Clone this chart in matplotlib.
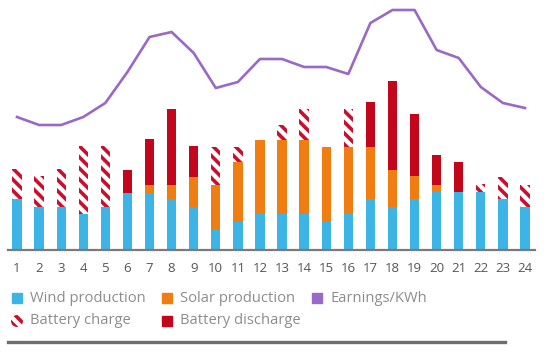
import numpy as np
import matplotlib.pyplot as plt
from matplotlib.patches import Rectangle

plt.rcParams['font.family'] = ['Open Sans', 'DejaVu Sans']
plt.rcParams['hatch.linewidth'] = 2.6

hours = list(range(1, 25))
wind = [51, 43, 43, 36, 43, 57, 57, 51, 43, 21, 28, 36,
        36, 36, 28, 36, 51, 43, 51, 58, 58, 58, 51, 43]
solar = [0, 0, 0, 0, 0, 0, 8, 14, 30, 44, 60, 74,
         74, 74, 75, 67, 52, 37, 23, 7, 0, 0, 0, 0]
charge = [30, 31, 38, 68, 61, 0, 0, 0, 0, 38, 15, 0,
          15, 31, 0, 38, 0, 0, 0, 0, 0, 8, 22, 22]
discharge = [0, 0, 0, 0, 0, 23, 46, 76, 31, 0, 0, 0,
             0, 0, 0, 0, 45, 89, 62, 30, 30, 0, 0, 0]
earnings = [133, 125, 125, 133, 147, 178, 213, 218, 197, 162, 168, 191,
            191, 183, 183, 176, 227, 240, 240, 200, 192, 163, 147, 142]

c_wind = '#3cb4e6'
c_solar = '#f07d12'
c_dis = '#c4061c'
c_earn = '#9a68c6'
c_hatch = '#c8102e'
c_txt = '#8c8c8c'

fig = plt.figure(figsize=(5.53, 3.58), dpi=100)
ax = fig.add_axes([0, 0, 1, 1])
step = (525 - 17) / 23
ax.set_xlim(1 - 17 / step, 1 + (553 - 17) / step)
ax.set_ylim(-108, 250)
ax.axis('off')

x = np.array(hours)
w = 0.42
wind = np.array(wind)
solar = np.array(solar)
charge = np.array(charge)
discharge = np.array(discharge)

ax.bar(x, wind, w, color=c_wind, zorder=2)
ax.bar(x, solar, w, bottom=wind, color=c_solar, zorder=2)
top = wind + solar
ax.bar(x, discharge, w, bottom=top, color=c_dis, zorder=2)
ax.bar(x, charge, w, bottom=top, color='white', edgecolor=c_hatch,
       hatch='\\\\\\', linewidth=0, zorder=2)

ax.plot(x, earnings, color=c_earn, lw=1.9, zorder=3, solid_joinstyle='round')

# baseline
ax.plot([1 - 9 / step, 1 + 518 / step], [0, 0], color='#7a7a7a', lw=1.6, zorder=4)

for h in hours:
    ax.text(h, -18, str(h), ha='center', va='center', fontsize=9.5, color='#555555')

# legend
def px(xp):
    return 1 + (xp - 17) / step

items = [
    (12, 298, c_wind, 'Wind production'),
    (162, 298, c_solar, 'Solar production'),
    (312, 298, c_earn, 'Earnings/KWh'),
    (162, 321, c_dis, 'Battery discharge'),
]
for xp, yp, col, lab in items:
    ax.add_patch(Rectangle((px(xp), 250 - yp - 5), 10 / step, 10, color=col))
    ax.text(px(xp + 18), 250 - yp, lab, va='center', ha='left', fontsize=10.6, color=c_txt)

ax.scatter([px(17)], [250 - 321], s=75, marker='o', facecolor='white',
           edgecolor=c_hatch, hatch='\\\\\\', linewidths=0)
ax.text(px(30), 250 - 321, 'Battery charge', va='center', ha='left', fontsize=10.6, color=c_txt)

ax.plot([px(8), px(505)], [250 - 342, 250 - 342], color='#6e6e6e', lw=2.4)

fig.savefig('out.png', dpi=100)
